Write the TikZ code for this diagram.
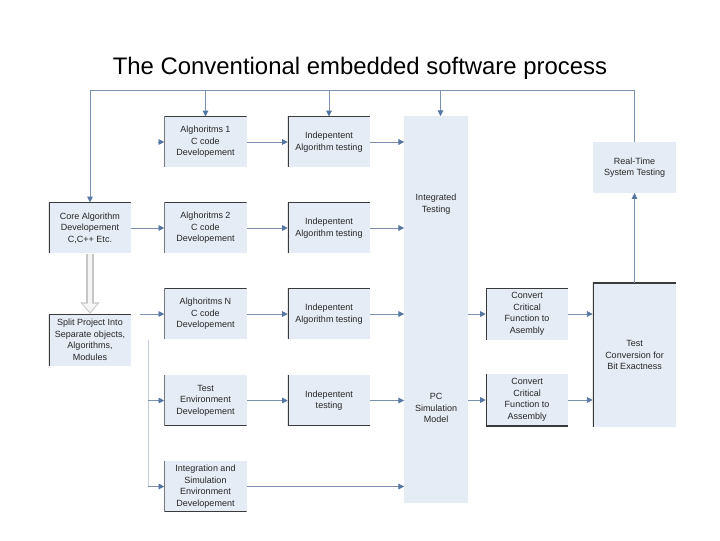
\documentclass[tikz,border=0pt]{standalone}
\usepackage{fontspec}
\setmainfont{Liberation Sans}
\usetikzlibrary{arrows.meta}
\definecolor{boxfill}{HTML}{E6ECF6}
\definecolor{linkcol}{HTML}{7A90AE}
\definecolor{tipcol}{HTML}{5576A3}
\definecolor{edgecol}{HTML}{3A3A3A}
\tikzset{
  blk/.style={fill=boxfill, minimum width=2.05cm, minimum height=1.27cm, inner sep=1pt,
    align=center, font=\fontsize{6.4}{8.2}\selectfont, text=black!85},
  topl/.style={path picture={\draw[edgecol, line width=1.2pt]
    (path picture bounding box.south west) -- (path picture bounding box.north west)
    -- (path picture bounding box.north east);}},
  botl/.style={path picture={\draw[edgecol, line width=1.2pt]
    (path picture bounding box.north west) -- (path picture bounding box.south west)
    -- (path picture bounding box.south east);}},
  link/.style={linkcol, line width=0.5pt, -{Triangle[length=4pt,width=4pt,color=tipcol]}},
  lbl/.style={font=\fontsize{6.4}{8.2}\selectfont, text=black!85, align=center},
}
\begin{document}
\begin{tikzpicture}[x=0.025cm, y=-0.025cm]
\useasboundingbox (0,0) rectangle (720,540);
\node (title) at (360,68) {\fontsize{17}{20}\selectfont The Conventional embedded software process};

% first column
\node[blk, topl] (core) at (90,228) {Core Algorithm\\Developement\\C,C++ Etc.};
\node[blk, topl, minimum height=1.3cm] (split) at (90,340) {Split Project Into\\Separate objects,\\Algorithms,\\Modules};

% code development
\node[blk, topl] (a1) at (205.5,142) {Alghoritms 1\\C code\\Developement};
\node[blk, topl] (a2) at (205.5,228) {Alghoritms 2\\C code\\Developement};
\node[blk, topl] (an) at (205.5,314) {Alghoritms N\\C code\\Developement};
\node[blk, botl] (tenv) at (205.5,400.5) {Test\\Environment\\Developement};
\node[blk, botl] (isim) at (205.5,486.5) {Integration and\\Simulation\\Environment\\Developement};

% testing
\node[blk, topl] (t1) at (329,142) {Indepentent\\Algorithm testing};
\node[blk, topl] (t2) at (329,228) {Indepentent\\Algorithm testing};
\node[blk, topl] (t3) at (329,314) {Indepentent\\Algorithm testing};
\node[blk, botl] (t4) at (329,400.5) {Indepentent\\testing};

% integrated testing column
\node[fill=boxfill, minimum width=1.58cm, minimum height=9.68cm, inner sep=0pt] (integ) at (436,309.5) {};
\node[lbl] (integtxt) at (436,204) {Integrated\\Testing};
\node[lbl] (pctxt) at (436,408) {PC\\Simulation\\Model};
\coordinate (integtop) at (440.5,116);

% conversion
\node[blk, topl, minimum height=1.3cm] (c1) at (527,314) {Convert\\Critical\\Function to\\Asembly};
\node[blk, botl, minimum height=1.3cm] (c2) at (527,400) {Convert\\Critical\\Function to\\Assembly};
\node[blk, topl, minimum width=2.08cm, minimum height=3.6cm] (tc) at (634.5,355) {Test\\Conversion for\\Bit Exactness};
\node[blk, minimum width=2.08cm] (rt) at (634.5,167.5) {Real-Time\\System Testing};

% feedback loop
\coordinate (fb) at (90,90);
\draw[link] (tc.north) -- (rt.south);
\draw[link] (rt.north) |- (fb) -- (core.north);
\draw[link] (a1.north |- fb) -- (a1.north);
\draw[link] (t1.north |- fb) -- (t1.north);
\draw[link] (integtop |- fb) -- (integtop);

% split and distribute
\draw[line width=5pt, gray!45, -{Triangle[length=8pt,width=13pt]}] (core.south) -- (split.north);
\draw[line width=3.4pt, gray!8, -{Triangle[length=6pt,width=10pt]}, shorten >=1.2pt] (core.south) -- (split.north);
\draw[link] (core.east) -- (a2.west);
\coordinate (anin) at (140,314);
\draw[link] (anin) -- (an.west);
\coordinate (bus) at (148,340);
\coordinate (a1in) at (158,142);
\draw[linkcol!45, line width=0.5pt] (bus) -- (bus |- isim);
\draw[link] (a1in) -- (a1.west);
\draw[link] (bus |- tenv) -- (tenv.west);
\draw[link] (bus |- isim) -- (isim.west);

% into testing
\draw[link] (a1.east) -- (t1.west);
\draw[link] (a2.east) -- (t2.west);
\draw[link] (an.east) -- (t3.west);
\draw[link] (tenv.east) -- (t4.west);
\draw[link] (t1.east) -- (t1.east -| integ.west);
\draw[link] (t2.east) -- (t2.east -| integ.west);
\draw[link] (t3.east) -- (t3.east -| integ.west);
\draw[link] (t4.east) -- (t4.east -| integ.west);
\draw[link] (isim.east) -- (isim.east -| integ.west);

% conversion links
\draw[link] (c1.west -| integ.east) -- (c1.west);
\draw[link] (c2.west -| integ.east) -- (c2.west);
\draw[link] (c1.east) -- (c1.east -| tc.west);
\draw[link] (c2.east) -- (c2.east -| tc.west);
\end{tikzpicture}
\end{document}
